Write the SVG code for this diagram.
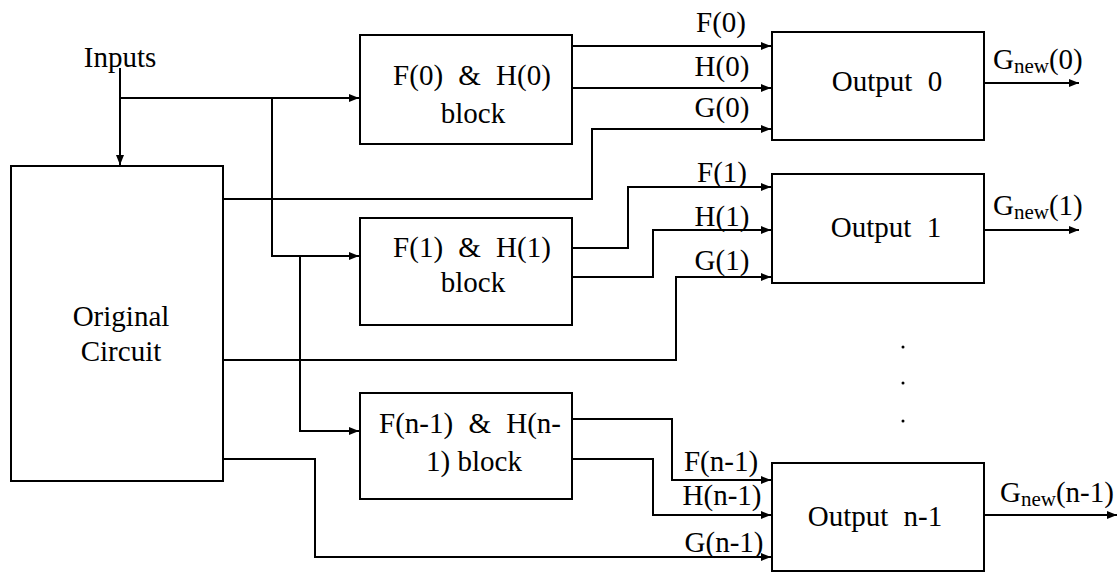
<svg xmlns="http://www.w3.org/2000/svg" width="1117" height="572" viewBox="0 0 1117 572">
<style>
.box{fill:#fff;stroke:#000;stroke-width:2}
.ln{fill:none;stroke:#000;stroke-width:2}
text{font-family:'Liberation Serif',Tinos,'Times New Roman','DejaVu Serif',serif;font-size:29px;fill:#000}
.c{text-anchor:middle}
.w{word-spacing:8px}
.sub{font-size:21px}
</style>
<defs>
<marker id="ah" markerUnits="userSpaceOnUse" markerWidth="10" markerHeight="8" refX="10" refY="4" orient="auto">
<path d="M0,0 L10,4 L0,8 z" fill="#000"/>
</marker>
</defs>
<rect width="1117" height="572" fill="#fff"/>
<g id="connectors">
<path class="ln" d="M120,68 V165" marker-end="url(#ah)"/>
<path class="ln" d="M120,98 H359" marker-end="url(#ah)"/>
<path class="ln" d="M272,98 V256 H359" marker-end="url(#ah)"/>
<path class="ln" d="M300,256 V431 H359" marker-end="url(#ah)"/>
<path class="ln" d="M572,46 H771" marker-end="url(#ah)"/>
<path class="ln" d="M572,88 H771" marker-end="url(#ah)"/>
<path class="ln" d="M223,199 H592 V129 H771" marker-end="url(#ah)"/>
<path class="ln" d="M572,248 H628 V187 H771" marker-end="url(#ah)"/>
<path class="ln" d="M572,277 H653 V230 H771" marker-end="url(#ah)"/>
<path class="ln" d="M223,360 H676 V277 H771" marker-end="url(#ah)"/>
<path class="ln" d="M572,419 H672 V480 H771" marker-end="url(#ah)"/>
<path class="ln" d="M572,459 H653 V515 H771" marker-end="url(#ah)"/>
<path class="ln" d="M223,459 H315 V557 H771" marker-end="url(#ah)"/>
<path class="ln" d="M984,83 H1079" marker-end="url(#ah)"/>
<path class="ln" d="M984,230 H1079" marker-end="url(#ah)"/>
<path class="ln" d="M984,515 H1117" marker-end="url(#ah)"/>
</g>
<g id="labels">
<text class="c" x="120" y="67">Inputs</text>
<text class="c" x="721" y="32">F(0)</text>
<text class="c" x="722" y="76">H(0)</text>
<text class="c" x="722" y="117">G(0)</text>
<text class="c" x="722" y="182">F(1)</text>
<text class="c" x="722" y="226">H(1)</text>
<text class="c" x="722" y="270">G(1)</text>
<text class="c" x="721" y="471">F(n-1)</text>
<text class="c" x="722" y="505">H(n-1)</text>
<text class="c" x="724" y="552">G(n-1)</text>
<text x="993" y="69">G<tspan class="sub" dy="4">new</tspan><tspan dy="-4">(0)</tspan></text>
<text x="993" y="215">G<tspan class="sub" dy="4">new</tspan><tspan dy="-4">(1)</tspan></text>
<text x="1000" y="502">G<tspan class="sub" dy="4">new</tspan><tspan dy="-4">(n-1)</tspan></text>
<circle cx="903" cy="347" r="1.5"/>
<circle cx="903" cy="383" r="1.5"/>
<circle cx="903" cy="421" r="1.5"/>
</g>
<g id="original">
<rect class="box" x="11" y="166" width="212" height="315"/>
<text class="c" x="121" y="326">Original</text>
<text class="c" x="121" y="361">Circuit</text>
</g>
<g id="fh0">
<rect class="box" x="360" y="35" width="212" height="109"/>
<text class="c w" x="472" y="85">F(0) &amp; H(0)</text>
<text class="c" x="473" y="123">block</text>
</g>
<g id="fh1">
<rect class="box" x="360" y="218" width="212" height="107"/>
<text class="c w" x="472" y="257">F(1) &amp; H(1)</text>
<text class="c" x="473" y="292">block</text>
</g>
<g id="fhn">
<rect class="box" x="360" y="393" width="212" height="106"/>
<text class="c w" x="470" y="433">F(n-1) &amp; H(n-</text>
<text class="c" x="474" y="471">1) block</text>
</g>
<g id="out0">
<rect class="box" x="772" y="32" width="212" height="108"/>
<text class="c w" x="887" y="91">Output 0</text>
</g>
<g id="out1">
<rect class="box" x="772" y="174" width="212" height="109"/>
<text class="c w" x="886" y="237">Output 1</text>
</g>
<g id="outn">
<rect class="box" x="772" y="463" width="212" height="108"/>
<text class="c w" x="875" y="526">Output n-1</text>
</g>
</svg>
